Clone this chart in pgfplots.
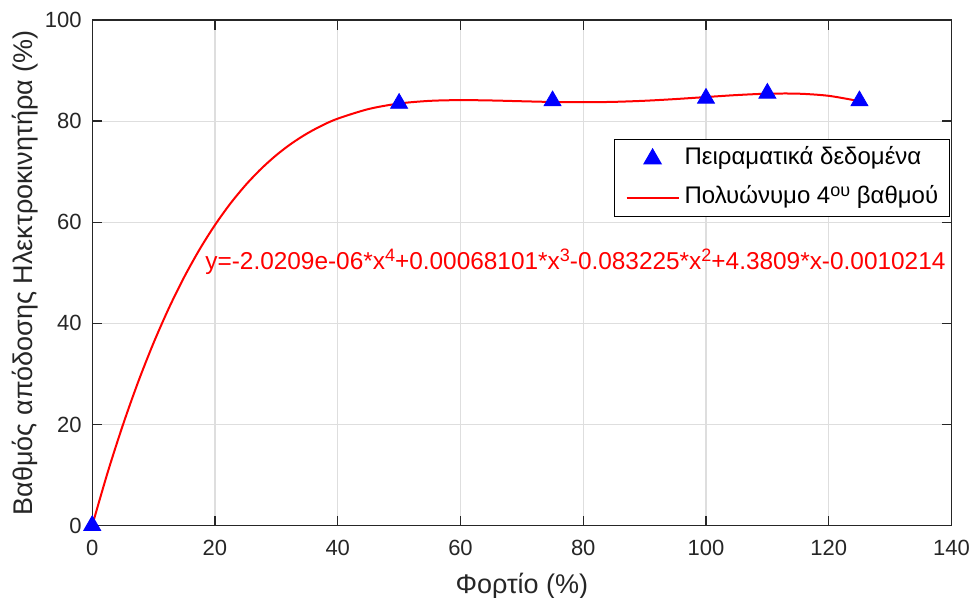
\documentclass[border=0pt]{standalone}
\usepackage{fontspec}
\setmainfont{Liberation Sans}
\usepackage{pgfplots}
\pgfplotsset{compat=1.18}
\definecolor{axc}{RGB}{38,38,38}
\definecolor{gridc}{RGB}{222,222,222}
\newcommand{\supx}[1]{\raisebox{0.6ex}{\fontsize{9}{10}\selectfont #1}}
\begin{document}
\begin{tikzpicture}
\begin{axis}[
  scale only axis, width=429.75pt, height=252.85pt,
  xmin=0, xmax=140, ymin=0, ymax=100,
  xtick={0,20,...,140}, ytick={0,20,...,100},
  grid=major, major grid style={gridc, line width=0.6pt},
  axis line style={axc, line width=0.7pt},
  every tick/.style={axc, line width=0.7pt},
  major tick length=5pt, tick align=inside,
  /pgf/number format/assume math mode=true,
  tick label style={font=\fontsize{11}{13}\selectfont, text=axc},
  xticklabel style={yshift=-4pt},
  yticklabel style={xshift=-1.8pt},
  xlabel={Φορτίο (\%)},
  ylabel={Βαθμός απόδοσης Ηλεκτροκινητήρα (\%)},
  label style={font=\fontsize{13.5}{16}\selectfont, text=axc},
  xlabel style={at={(axis description cs:0.5,-0.119)}, anchor=center},
  ylabel style={at={(axis description cs:-0.0782,0.5)}, anchor=center},
  clip=false,
  legend image code/.code={\draw[mark repeat=2,mark phase=2,#1] plot coordinates {(0pt,0pt) (13pt,0pt) (26pt,0pt)};},
  legend cell align=left,
  legend style={at={(axis description cs:0.998,0.764)}, anchor=north east,
    draw=black, line width=0.6pt, fill=white,
    font=\fontsize{12}{14}\selectfont,
    inner xsep=5.5pt, inner ysep=4pt, row sep=8.5pt, column sep=2.5pt,
    nodes={inner sep=0pt, text height=8.5pt, text depth=2.5pt}},
]
\addplot[only marks, mark=triangle*, mark size=4.9pt, color=blue, mark options={fill=blue, draw=blue}]
  coordinates {(0,0) (50,83.5) (75,84.0) (100,84.5) (110,85.5) (125,84.0)};
\addlegendentry{Πειραματικά δεδομένα}
\addplot[red, line width=1pt, smooth, no marks]
  coordinates {(0,0) (2.5,10.443) (5,19.908) (7.5,28.455) (10,36.147) (12.5,43.037)
  (15,49.184) (17.5,54.637) (20,59.452) (22.5,63.676) (25,67.358) (27.5,70.542)
  (30,73.274) (32.5,75.595) (35,77.545) (37.5,79.164) (40,80.487) (45,82.379)
  (50,83.478) (55,84.004) (60,84.151) (65,84.080) (70,83.925) (75,83.785)
  (80,83.732) (85,83.807) (90,84.023) (95,84.357) (100,84.759) (105,85.151)
  (110,85.420) (115,85.426) (120,84.998) (125,83.935)};
\addlegendentry{Πολυώνυμο 4\supx{ου} βαθμού}
\node[anchor=base west, inner sep=0pt, text=red, font=\fontsize{12.2}{14}\selectfont]
  at (axis cs:18.37,50.7) {y=-2.0209e-06*x\supx{4}+0.00068101*x\supx{3}-0.083225*x\supx{2}+4.3809*x-0.0010214};
\coordinate (sw) at (rel axis cs:0,0);
\coordinate (ne) at (rel axis cs:1,1);
\end{axis}
\pgfresetboundingbox
\path[use as bounding box] ([xshift=-46.125pt,yshift=-36.15pt]sw) rectangle ([xshift=10.75pt,yshift=10pt]ne);
\end{tikzpicture}
\end{document}
